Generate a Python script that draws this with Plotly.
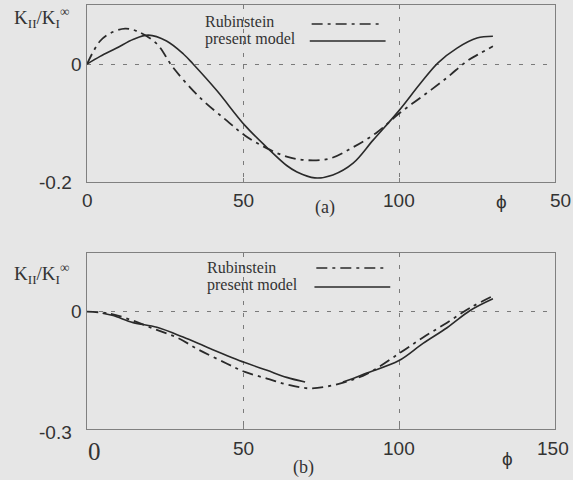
import plotly.graph_objects as go

# ---------------- data ----------------
# panel (a)
a_rub_phi = [0, 4.2, 7.4, 12.2, 16.3, 22.4, 27.6, 36.2, 44.8, 50.6, 57.7, 64, 70.4,
             77.9, 85.3, 92.9, 100, 107.7, 115.4, 121.8, 126, 130.1]
a_rub_k = [0, 0.039, 0.052, 0.060, 0.055, 0.034, -0.006, -0.057, -0.096, -0.121, -0.143,
           -0.157, -0.163, -0.160, -0.141, -0.116, -0.084, -0.054, -0.023, 0.005, 0.018, 0.030]
a_mod_phi = [0, 4.2, 9.5, 14.9, 19.7, 25.5, 30.9, 34, 41.6, 50.6, 57.6, 64, 67.3, 73,
             78.8, 85.3, 91.7, 100, 106.7, 112.5, 118.6, 125, 130.1]
a_mod_k = [0, 0.013, 0.027, 0.042, 0.049, 0.039, 0.017, 0, -0.045, -0.104, -0.141, -0.172,
           -0.183, -0.193, -0.188, -0.168, -0.129, -0.079, -0.034, 0.002, 0.027, 0.044, 0.047]
# panel (b)
b_rub_phi = [0, 7.4, 14.8, 21.2, 28.8, 36.2, 44.9, 50.6, 57.7, 64, 71.5, 81, 89.7,
             100, 107.7, 115.4, 122.8, 130.1]
b_rub_k = [0, -0.005, -0.023, -0.043, -0.066, -0.099, -0.133, -0.154, -0.171, -0.186,
           -0.196, -0.184, -0.159, -0.107, -0.066, -0.028, 0.010, 0.040]
b_mod_phi = [5, 8.4, 14.8, 22.4, 30.8, 39.4, 50.6, 57.7, 64, 69.9, None,
             82, 85.3, 89.7, 100, 107.7, 115.4, 122.8, 130.1]
b_mod_k = [-0.004, -0.010, -0.028, -0.040, -0.065, -0.094, -0.130, -0.150, -0.168, -0.180, None,
           -0.180, -0.171, -0.157, -0.125, -0.081, -0.041, 0.003, 0.033]

x_ticks = [0, 50, 100, 150]
a_x_text = ["0", "50", "100", "50"]
b_x_text = ["0", "50", "100", "150"]
a_y_ticks = [0, -0.2]
a_y_text = ["0", "-0.2"]
b_y_ticks = [0, -0.3]
b_y_text = ["0", "-0.3"]
series_names = ["Rubinstein", "present model"]
y_title = "K<sub>II</sub>/K<sub>I</sub><sup>∞</sup>"
panel_labels = ["(a)", "(b)"]

# ---------------- style ----------------
BG = "#e6e6e6"
INK = "#2a2a2a"
TXT = "#333333"
GRID = "#7a7a7a"
FRAME = "#808080"
DASHDOT = "11px,5px,3px,5px"
SANS = "Liberation Sans"
SERIF = "Liberation Serif"

fig = go.Figure()
fig.add_trace(go.Scatter(x=a_rub_phi, y=a_rub_k, mode="lines", line=dict(color=INK, width=1.8, dash=DASHDOT, shape="spline"), xaxis="x", yaxis="y", showlegend=False))
fig.add_trace(go.Scatter(x=a_mod_phi, y=a_mod_k, mode="lines", line=dict(color=INK, width=1.6, shape="spline"), xaxis="x", yaxis="y", showlegend=False))
fig.add_trace(go.Scatter(x=b_rub_phi, y=b_rub_k, mode="lines", line=dict(color=INK, width=1.8, dash=DASHDOT, shape="spline"), xaxis="x2", yaxis="y2", showlegend=False))
fig.add_trace(go.Scatter(x=b_mod_phi, y=b_mod_k, mode="lines", line=dict(color=INK, width=1.6, shape="spline"), xaxis="x2", yaxis="y2", showlegend=False, connectgaps=False))

def xax(anchor):
    return dict(range=[0, 150], domain=[0, 1], anchor=anchor, tickvals=x_ticks, showticklabels=False,
                showgrid=True, gridcolor=GRID, griddash="4px,8px", gridwidth=1,
                showline=True, linecolor=FRAME, linewidth=1, mirror=True,
                ticks="inside", ticklen=4, tickcolor=FRAME, zeroline=False)

def yax(rng, dom, ticks, anchor):
    return dict(range=rng, domain=dom, anchor=anchor, tickvals=ticks, showticklabels=False,
                showgrid=True, gridcolor=GRID, griddash="4px,8px", gridwidth=1,
                showline=True, linecolor=FRAME, linewidth=1, mirror=True,
                ticks="", zeroline=False)

fig.update_layout(
    width=573, height=480,
    margin=dict(l=87, r=18, t=5, b=51),
    paper_bgcolor=BG, plot_bgcolor=BG,
    xaxis=xax("y"), yaxis=yax([-0.2, 0.1], [0.5825, 1], a_y_ticks, "x"),
    xaxis2=xax("y2"), yaxis2=yax([-0.3, 0.15], [0, 0.415], b_y_ticks, "x2"),
)

ann = []
shapes = []
panels = [
    ("x", "y", a_x_text, a_y_ticks, a_y_text, -18, panel_labels[0]),
    ("x2", "y2", b_x_text, b_y_ticks, b_y_text, -19, panel_labels[1]),
]
for i, (xr, yr, xt, yt, ytt, xshift_lab, plab) in enumerate(panels):
    # x tick labels
    for v, t in zip(x_ticks, xt):
        fnt = dict(family=SANS, size=19, color=TXT)
        dx = 0
        dy = xshift_lab
        if v == 0 and i == 1:
            fnt = dict(family=SERIF, size=25, color=TXT)
            dx = 7
            dy = -22
        if v == 150 and i == 0:
            dx = 5
        if v == 150 and i == 1:
            dx = -2
        ann.append(dict(x=v, xref=xr, y=0, yref=yr + " domain", text=t, showarrow=False,
                        xanchor="center", yanchor="middle", xshift=dx, yshift=dy, font=fnt))
    # phi label
    ann.append(dict(x=1, xref=xr + " domain", y=0, yref=yr + " domain", text="ϕ", showarrow=False,
                    xanchor="center", yanchor="middle", xshift=-54 if i == 0 else -48,
                    yshift=-19 if i == 0 else -29, font=dict(family=SANS, size=19, color=TXT)))
    # panel label
    ann.append(dict(x=0.5, xref=xr + " domain", y=0, yref=yr + " domain", text=plab, showarrow=False,
                    xanchor="center", yanchor="middle", xshift=4 if i == 0 else -18,
                    yshift=-25 if i == 0 else -38, font=dict(family=SERIF, size=18, color=TXT)))
    # y tick labels
    for v, t in zip(yt, ytt):
        ann.append(dict(x=0, xref=xr + " domain", y=v, yref=yr, text=t, showarrow=False,
                        xanchor="right", yanchor="middle", xshift=-3 if v == 0 else -13,
                        yshift=0 if v == 0 else (0 if i == 0 else -3),
                        font=dict(family=SANS, size=19, color=TXT)))
    # y title
    ann.append(dict(x=0, xref="paper", y=1, yref=yr + " domain", text=y_title, showarrow=False,
                    xanchor="left", yanchor="middle", xshift=-75, yshift=-12 if i == 0 else -20,
                    font=dict(family=SERIF, size=19, color=TXT)))
    # legend
    lx = 0.248 if i == 0 else 0.252
    for j, name in enumerate(series_names):
        ann.append(dict(x=lx, xref=xr + " domain", y=1, yref=yr + " domain", text=name, showarrow=False,
                        xanchor="left", yanchor="middle", yshift=(-16 - 18 * j) if i == 0 else (-14 - 18 * j),
                        font=dict(family=SERIF, size=16, color=TXT)))
    y0 = 1 - (19 / 177) if i == 0 else 1 - (15 / 176)
    y1 = 1 - (36 / 177) if i == 0 else 1 - (34 / 176)
    sx0 = 0.48 if i == 0 else 0.49
    shapes.append(dict(type="line", xref=xr + " domain", yref=yr + " domain", x0=sx0, x1=sx0 + 0.152,
                       y0=y0, y1=y0, line=dict(color=INK, width=1.6, dash=DASHDOT)))
    shapes.append(dict(type="line", xref=xr + " domain", yref=yr + " domain", x0=sx0 - 0.004, x1=sx0 + 0.158,
                       y0=y1, y1=y1, line=dict(color=INK, width=1.4)))

fig.update_layout(annotations=ann, shapes=shapes)
fig.write_html("out.html")
